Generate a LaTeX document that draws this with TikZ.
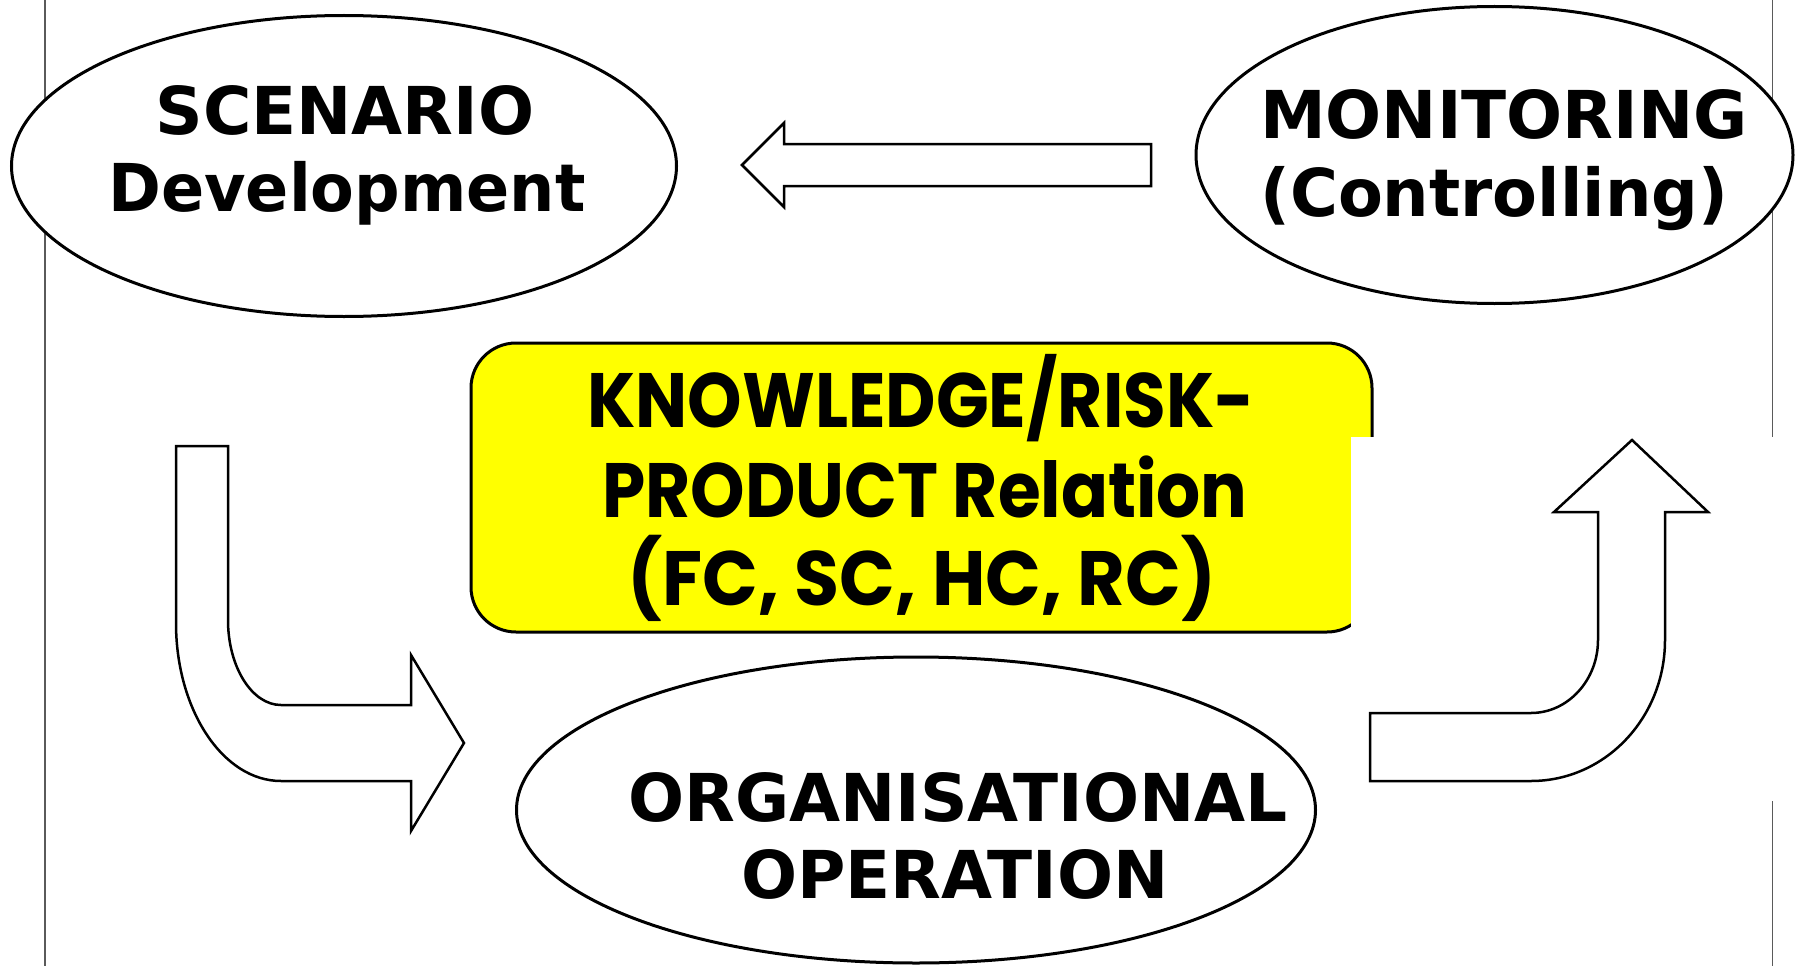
\documentclass[tikz,border=0pt]{standalone}
\usepackage{fontspec}
\setmainfont{DejaVu Sans}
\newfontfamily\popfont{Poppins}
\usetikzlibrary{shapes.geometric}
\definecolor{boxyellow}{HTML}{FFFF00}
\definecolor{rulegray}{HTML}{5A5A5A}
\begin{document}
\begin{tikzpicture}[x=1pt,y=-1pt,
  ell/.style={ellipse, draw=black, line width=3pt, fill=white, inner sep=0pt},
  lbl/.style={font=\fontsize{66}{77}\selectfont\bfseries, inner sep=0pt, text=black},
  ylbl/.style={font=\popfont\fontsize{77}{89}\selectfont\bfseries, inner sep=0pt, text=black},
  blockarrow/.style={draw=black, line width=2.5pt, fill=white, line join=miter},
  sideline/.style={draw=rulegray, line width=1.3pt},
  ybox/.style={draw=black, line width=3pt, fill=boxyellow, rounded corners=45pt}]
\useasboundingbox (0,0) rectangle (1800,966);
\fill[white] (0,0) rectangle (1800,966);
% side rules
\coordinate (lt) at (45,0);
\coordinate (lb) at (45,966);
\coordinate (rt) at (1772.7,0);
\coordinate (rb) at (1772.7,966);
\draw[sideline] (lt) -- (lb);
\draw[sideline] (rt) -- (rb);
% ellipses
\node[ell, minimum width=665pt, minimum height=301pt] (scen) at (344,166) {};
\node[ell, minimum width=597pt, minimum height=297pt] (moni) at (1494.5,155) {};
\node[ell, minimum width=799pt, minimum height=306pt] (orga) at (916,810) {};
% yellow box
\draw[ybox] (471,343) rectangle (1372,632);
\fill[white] (1351,437) rectangle (1800,801);
% labels
\node[lbl, anchor=base] (scenA) at (345,135) {SCENARIO};
\node[lbl, anchor=base] (scenB) at (347,211) {\scalebox{0.965}[1]{Development}};
\node[lbl, anchor=base west] (moniA) at (1260,139) {MONITORING};
\node[lbl, anchor=base west] (moniB) at (1260,216) {\scalebox{0.99}[1]{(Controlling)}};
\node[lbl, anchor=base] (orgaA) at (958,821) {ORGANISATIONAL};
\node[lbl, anchor=base] (orgaB) at (955,898) {OPERATION};
\node[ylbl, anchor=base] (knowA) at (921,427) {\scalebox{0.9}[1]{KNOWLEDGE/RISK-}};
\node[ylbl, anchor=base] (knowB) at (925,517) {\scalebox{0.9}[1]{PRODUCT Relation}};
\node[ylbl, anchor=base] (knowC) at (922,605) {\scalebox{0.95}[1]{(FC, SC, HC, RC)}};
% left-pointing block arrow (Monitoring -> Scenario)
\draw[blockarrow] (1151,144) -- (784,144) -- (784,123) -- (742,165) -- (784,207)
  -- (784,186) -- (1151,186) -- cycle;
% bent arrow (Scenario -> Organisational)
\draw[blockarrow] (176,446) -- (228,446) -- (228,620)
  .. controls (228,667) and (252,705) .. (281,705)
  -- (411,705) -- (411,655) -- (464,743) -- (411,831) -- (411,781) -- (281,781)
  .. controls (223,781) and (176,710) .. (176,623) -- cycle;
% bent arrow (Organisational -> Monitoring)
\draw[blockarrow] (1370,713) -- (1531,713)
  .. controls (1568,713) and (1598,680) .. (1598,640)
  -- (1598,512) -- (1554,512) -- (1632,440) -- (1708,512) -- (1665,512) -- (1665,640)
  .. controls (1665,718) and (1605,781) .. (1531,781)
  -- (1370,781) -- cycle;
\end{tikzpicture}
\end{document}
